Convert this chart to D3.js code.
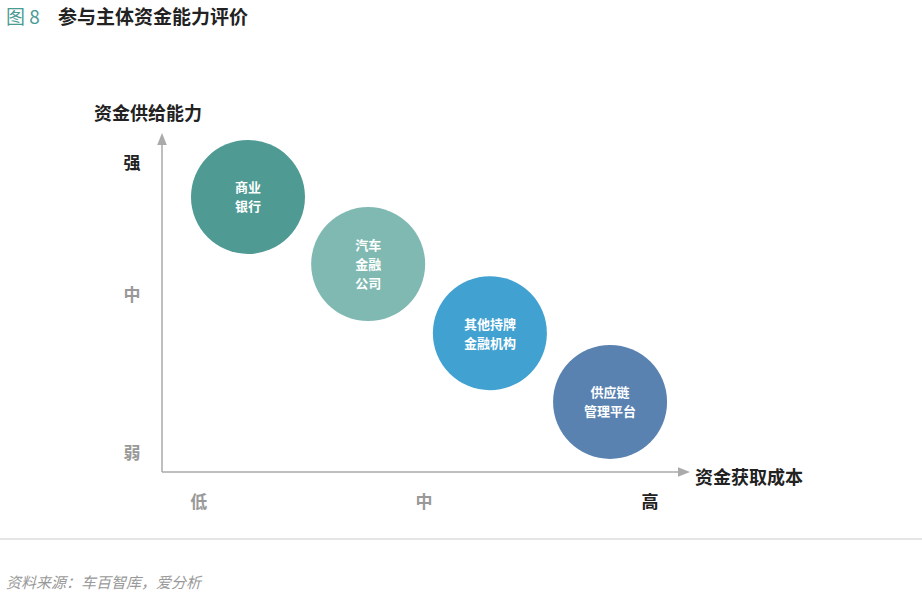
<!DOCTYPE html><html><head><meta charset="utf-8"><script src="https://cdn.jsdelivr.net/npm/d3@7"></script>
<style>body{margin:0;background:#fff;font-family:"Noto Sans CJK SC",sans-serif}</style></head><body><svg width="922" height="598"></svg>
<script>
const institutions=["商业\n银行","汽车\n金融\n公司","其他持牌\n金融机构","供应链\n管理平台"];
const costValues=[1.66,3.98,6.33,8.65];
const supplyValues=[8.36,6.32,4.22,2.13];
const colors=["#4f9b94","#80b9b1","#41a1d1","#5982b1"];
const xTickLabels=["低","中","高"], xTickValues=[0.71,5.06,9.42];
const yTickLabels=["弱","中","强"], yTickValues=[0.58,5.38,9.39];
const svg=d3.select("svg");
const x=d3.scaleLinear().domain([0,10]).range([162,680]);
const y=d3.scaleLinear().domain([0,10]).range([472,143]);
svg.append("text").attr("x",6).attr("y",24).attr("font-size",19).attr("fill","#4a9b94").text("图 8");
svg.append("text").attr("x",58).attr("y",24).attr("font-size",19).attr("font-weight","bold").attr("fill","#222").text("参与主体资金能力评价");
svg.append("defs").append("marker").attr("id","ar").attr("viewBox","0 0 10 10").attr("refX",5).attr("refY",5).attr("markerWidth",8).attr("markerHeight",8).attr("orient","auto").append("path").attr("d","M0,1L10,5L0,9Z").attr("fill","#aaa");
svg.append("line").attr("x1",x(0)).attr("y1",y(0)).attr("x2",x(0)).attr("y2",y(10)-4).attr("stroke","#aaa").attr("stroke-width",1.5).attr("marker-end","url(#ar)");
svg.append("line").attr("x1",x(0)).attr("y1",y(0)).attr("x2",x(10)+4).attr("y2",y(0)).attr("stroke","#aaa").attr("stroke-width",1.5).attr("marker-end","url(#ar)");
svg.append("text").attr("x",94).attr("y",120).attr("font-size",18).attr("font-weight","bold").attr("fill","#222").text("资金供给能力");
svg.append("text").attr("x",695).attr("y",484).attr("font-size",18).attr("font-weight","bold").attr("fill","#222").text("资金获取成本");
xTickLabels.forEach((t,i)=>svg.append("text").attr("x",x(xTickValues[i])).attr("y",508).attr("text-anchor","middle").attr("font-size",17).attr("font-weight","bold").attr("fill",i==2?"#222":"#999").text(t));
yTickLabels.forEach((t,i)=>svg.append("text").attr("x",132).attr("y",y(yTickValues[i])+6).attr("text-anchor","middle").attr("font-size",17).attr("font-weight","bold").attr("fill",i==2?"#222":"#999").text(t));
institutions.forEach((n,i)=>{
 const cx=x(costValues[i]),cy=y(supplyValues[i]);
 svg.append("circle").attr("cx",cx).attr("cy",cy).attr("r",57).attr("fill",colors[i]);
 const lines=n.split("\n");
 lines.forEach((l,j)=>svg.append("text").attr("x",cx).attr("y",cy+5+(j-(lines.length-1)/2)*19).attr("text-anchor","middle").attr("font-size",13).attr("font-weight","bold").attr("fill","#fff").text(l));
});
svg.append("line").attr("x1",0).attr("x2",922).attr("y1",539).attr("y2",539).attr("stroke","#ccc");
svg.append("text").attr("x",6).attr("y",588).attr("font-size",15).attr("font-style","italic").attr("fill","#999").text("资料来源：车百智库，爱分析");
</script></body></html>
